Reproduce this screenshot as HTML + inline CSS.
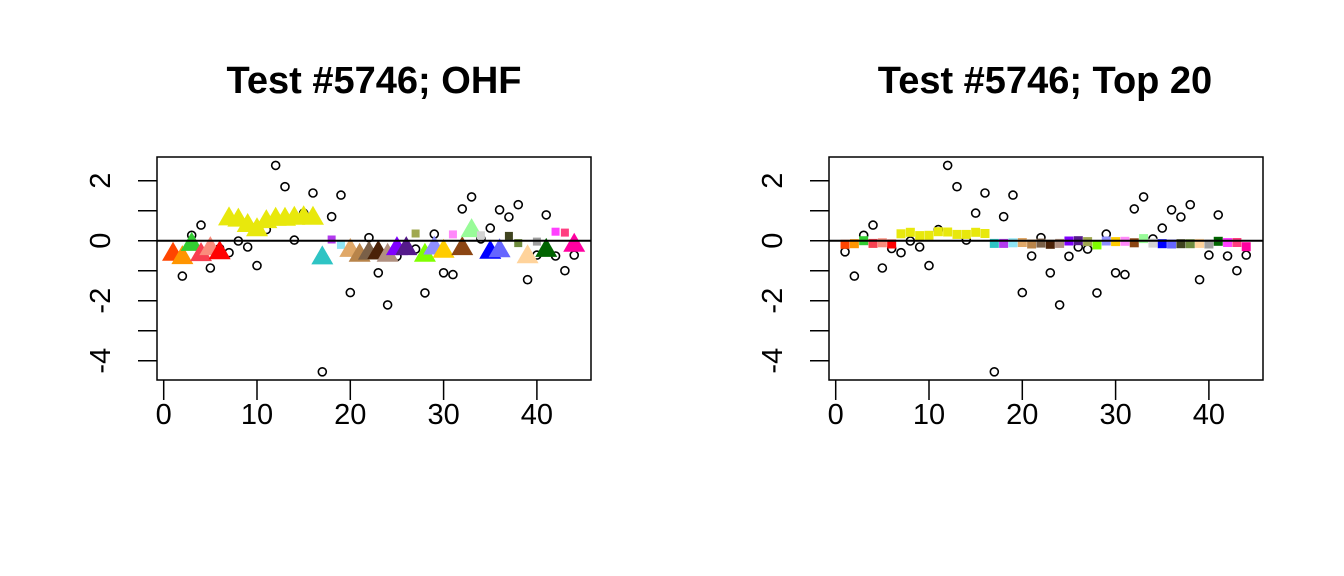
<!DOCTYPE html>
<html><head><meta charset="utf-8"><style>
html,body{margin:0;padding:0;background:#fff;}
svg{display:block;font-family:"Liberation Sans",Arial,sans-serif;}
</style></head><body>
<svg id="chart" width="1344" height="576" viewBox="0 0 1344 576">
<rect width="1344" height="576" fill="#fff"/>
<text x="374" y="93" text-anchor="middle" font-size="38" font-weight="bold">Test #5746; OHF</text>
<text x="1045" y="93" text-anchor="middle" font-size="38" font-weight="bold">Test #5746; Top 20</text>
<g id="left"></g>
<g id="right"></g>
</svg>
<script>
const residuals = [-0.37,-1.18,0.18,0.52,-0.91,-0.26,-0.40,-0.01,-0.21,-0.83,0.37,2.51,1.80,0.02,0.92,1.59,-4.37,0.80,1.52,-1.73,-0.51,0.10,-1.07,-2.14,-0.52,-0.21,-0.28,-1.74,0.22,-1.07,-1.13,1.06,1.46,0.06,0.42,1.03,0.79,1.20,-1.30,-0.48,0.86,-0.51,-1.00,-0.48];
const ohfValues = [-0.37,-0.48,-0.04,-0.38,-0.18,-0.32,0.81,0.77,0.59,0.45,0.72,0.80,0.80,0.83,0.85,0.83,-0.49,0.04,-0.14,-0.24,-0.40,-0.33,-0.31,-0.40,-0.18,-0.18,0.24,-0.40,-0.16,-0.27,0.21,-0.18,0.42,0.18,-0.30,-0.25,0.16,-0.08,-0.45,-0.03,-0.24,0.30,0.27,-0.07];
const ohfShapes = ["t","t","t","t","t","t","t","t","t","t","t","t","t","t","t","t","t","s","s","t","t","t","t","t","t","t","s","t","t","t","s","t","t","s","t","t","s","s","t","s","t","s","s","t"];
const top20Values = [-0.12,-0.10,0.00,-0.09,-0.07,-0.11,0.23,0.28,0.17,0.18,0.30,0.29,0.21,0.21,0.28,0.24,-0.09,-0.09,-0.07,-0.06,-0.11,-0.08,-0.12,-0.09,-0.01,0.00,-0.03,-0.14,-0.01,-0.03,-0.02,-0.07,0.07,-0.08,-0.10,-0.11,-0.10,-0.10,-0.09,-0.11,-0.02,-0.06,-0.06,-0.20];
const colors = ["#FF4500","#FF9500","#32CD32","#F84050","#FA8C7C","#FF0000","#E8E80C","#E8E80C","#E8E80C","#E8E80C","#E8E80C","#E8E80C","#E8E80C","#E8E80C","#E8E80C","#E8E80C","#2EC4C4","#B23AEE","#8EE5F5","#E0A868","#B8844A","#7A6048","#4A2208","#B09080","#8000FF","#551A8B","#A0A850","#80FF00","#8F8FFF","#FFCC00","#FF88FA","#8B4513","#98FB98","#D3D3D3","#0000FF","#6666FF","#404420","#6E8B3D","#FFD39B","#A0A0A0","#006400","#FF40FF","#FF3E80","#FF00A0"];
const xTicks = [0,10,20,30,40];
const yTicks = [-4,-3,-2,-1,0,1,2];
const yLabels = [-4,-2,0,2];

const NS="http://www.w3.org/2000/svg";
function mk(tag,attrs,parent){const e=document.createElementNS(NS,tag);for(const k in attrs)e.setAttribute(k,attrs[k]);parent.appendChild(e);return e;}

function panel(g, left, vals, shapes, sqSize){
  const top=157,bottom=380,right=left+434;
  const xs=v=>left+6.7+v*9.33;
  const ys=v=>240.7-v*30;
  yTicks.forEach(t=>{
    const l=mk('line',{x1:left-19,x2:left,y1:ys(t),y2:ys(t),stroke:'#000','stroke-width':1.5},g);
    
    
  });
  yLabels.forEach(t=>{
    const tx=mk('text',{x:0,y:0,'font-size':29,'text-anchor':'middle',transform:`translate(${left-57},${ys(t)}) rotate(-90) translate(0,10)`},g);
    tx.textContent=String(t);
    
    
  });
  xTicks.forEach(t=>{
    const l=mk('line',{x1:xs(t),x2:xs(t),y1:bottom,y2:bottom+20,stroke:'#000','stroke-width':1.5},g);
    
    
    const tx=mk('text',{x:xs(t),y:bottom+44,'font-size':29,'text-anchor':'middle'},g);
    tx.textContent=t;
    
    
  });
  const fr=mk('rect',{x:left,y:top,width:434,height:223,fill:'none',stroke:'#000','stroke-width':1.5},g);
  
  
  residuals.forEach((v,i)=>{
    const c=mk('circle',{cx:xs(i+1),cy:ys(v),r:4,fill:'none',stroke:'#000','stroke-width':1.6},g);
    
    
  });
  vals.forEach((v,i)=>{
    const cx=xs(i+1),cy=ys(v);
    let e;
    if(shapes && shapes[i]==='t'){
      const r=11;
      e=mk('polygon',{points:`${cx},${cy-10} ${cx-r},${cy+9} ${cx+r},${cy+9}`,fill:colors[i]},g);
      
    } else {
      const s=sqSize;
      e=mk('rect',{x:cx-s/2,y:cy-s/2,width:s,height:s,fill:colors[i]},g);
      
    }
    
  });
  const zl=mk('line',{x1:left,x2:right,y1:ys(0),y2:ys(0),stroke:'#000','stroke-width':2},g);
  
  
}
panel(document.getElementById('left'),157,ohfValues,ohfShapes,8);
panel(document.getElementById('right'),829,top20Values,null,9);
</script>
</body></html>
